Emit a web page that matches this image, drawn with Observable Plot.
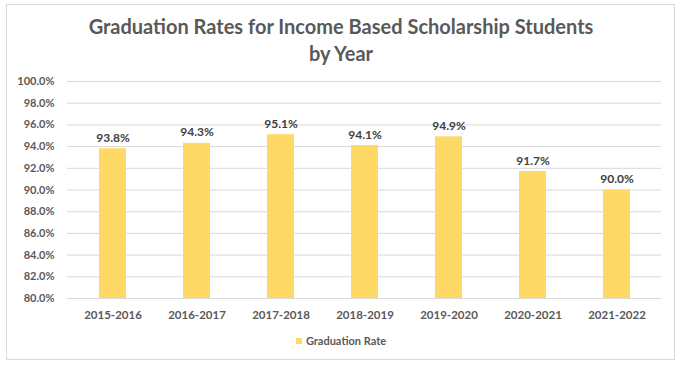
<!DOCTYPE html>
<html>
<head>
<meta charset="utf-8">
<script src="https://cdn.jsdelivr.net/npm/d3@7"></script>
<script src="https://cdn.jsdelivr.net/npm/@observablehq/plot@0.6"></script>
<style>
  body { margin: 0; background: #fff; }
  #wrap { position: relative; width: 682px; height: 369px; font-family: Lato, "Open Sans", sans-serif; }
  #frame { position: absolute; left: 6px; top: 4px; width: 669px; height: 356px; border: 1px solid #d9d9d9; box-sizing: border-box; }
  #title { position: absolute; left: 0; width: 682px; top: 13px; text-align: center; font-size: 20px; font-weight: bold; color: #595959; line-height: 27px; }
  #chart { position: absolute; left: 0; top: 70px; }
  #legend { position: absolute; left: 0; width: 682px; top: 334px; text-align: center; font-size: 11px; font-weight: bold; color: #595959; }
  #legend span.sw { display: inline-block; width: 6px; height: 6px; background: #FFD966; margin-right: 4px; vertical-align: 1px; }
</style>
</head>
<body>
<div id="wrap">
  <div id="frame"></div>
  <div id="title">Graduation Rates for Income Based Scholarship Students<br>by Year</div>
  <div id="chart"></div>
  <div id="legend"><span class="sw"></span>Graduation Rate</div>
</div>
<script>
const years = ["2015-2016", "2016-2017", "2017-2018", "2018-2019", "2019-2020", "2020-2021", "2021-2022"];
const rates = [93.8, 94.3, 95.1, 94.1, 94.9, 91.7, 90.0];
const yTicks = [80, 82, 84, 86, 88, 90, 92, 94, 96, 98, 100];
const seriesName = "Graduation Rate";

const data = years.map((y, i) => ({year: y, rate: rates[i]}));
const fmt = v => v.toFixed(1) + "%";

const chart = Plot.plot({
  width: 682,
  height: 265,
  marginTop: 11,
  marginBottom: 37,
  marginLeft: 67,
  marginRight: 21,
  style: {fontFamily: "Lato, 'Open Sans', sans-serif", fontSize: "11px", fontWeight: "bold", color: "#595959", background: "transparent"},
  x: {domain: years, paddingInner: 0.68, paddingOuter: 0.34, label: null},
  y: {domain: [80, 100], label: null},
  marks: [
    Plot.ruleY(yTicks, {stroke: "#d9d9d9", strokeWidth: 1}),
    Plot.axisY({ticks: yTicks, tickFormat: fmt, tickSize: 0, tickPadding: 13, fill: "#595959"}),
    Plot.axisX({tickSize: 0, tickPadding: 12, fill: "#595959", fontSize: 11.5}),
    Plot.barY(data, {x: "year", y1: 80, y2: "rate", fill: "#FFD966"}),
    Plot.text(data, {x: "year", y: "rate", text: d => fmt(d.rate), lineAnchor: "bottom", dy: -7, fill: "#404040", fontSize: 12, fontWeight: "bold"})
  ]
});
document.getElementById("chart").appendChild(chart);
</script>
</body>
</html>
